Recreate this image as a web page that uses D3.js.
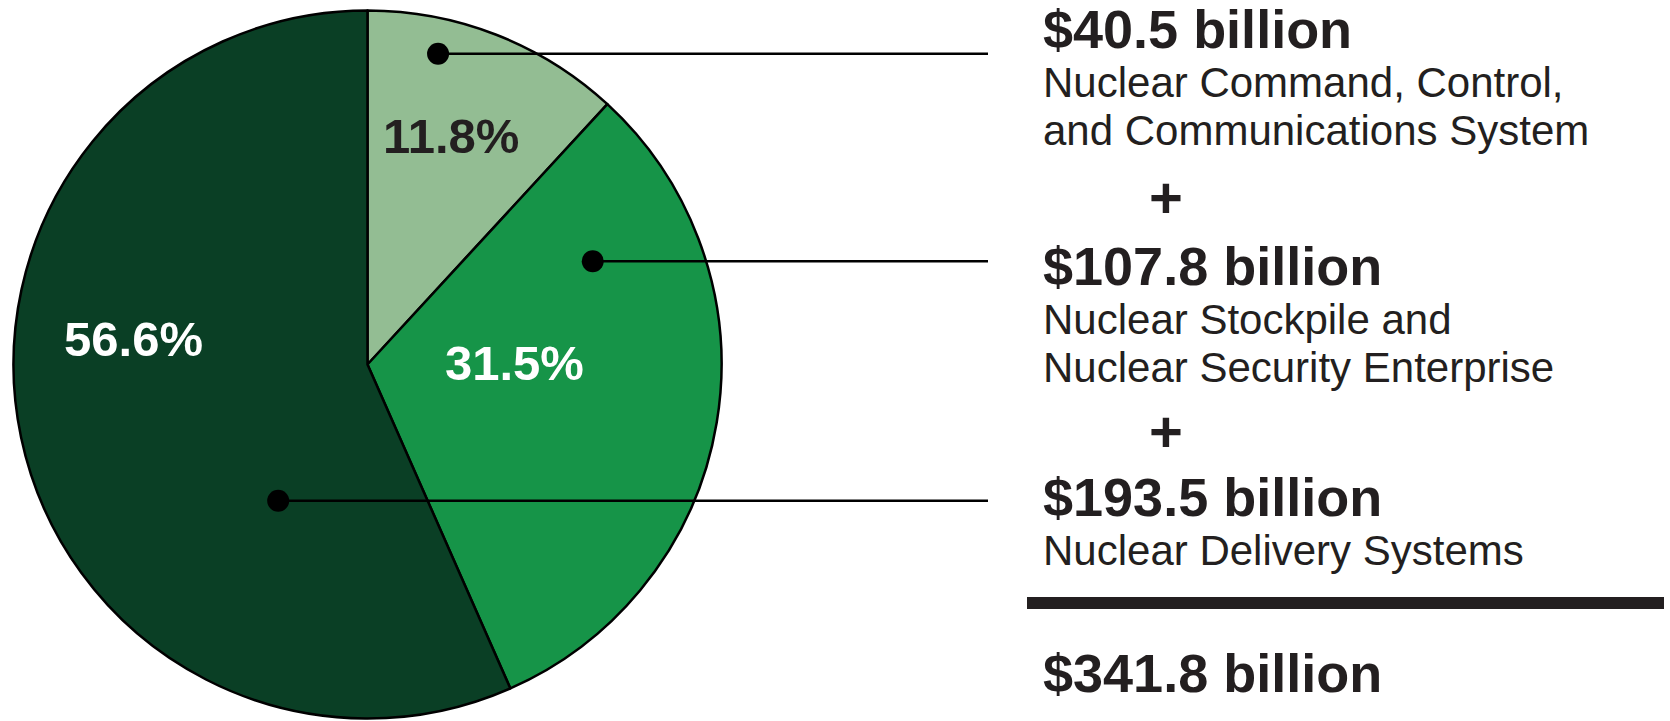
<!DOCTYPE html>
<html>
<head>
<meta charset="utf-8">
<script src="https://cdn.jsdelivr.net/npm/d3@7"></script>
<style>
  html, body { margin: 0; padding: 0; background: #fff; }
  svg { display: block; font-family: "Liberation Sans", Arial, sans-serif; }
</style>
</head>
<body>
<div id="graphic"></div>
<script>
// data
var amounts = [40.5, 107.8, 193.5];
var descriptions = [
  ["Nuclear Command, Control,", "and Communications System"],
  ["Nuclear Stockpile and", "Nuclear Security Enterprise"],
  ["Nuclear Delivery Systems"]
];
var sliceColors = ["#93bd93", "#169448", "#0a3f25"];
var labelColors = ["#231f20", "#ffffff", "#ffffff"];

// where the dot and the percent sit inside each slice: [angle fraction, radius fraction]
var dotSpots = [[0.30, 0.90], [0.20, 0.70], [0.28, 0.46]];
var labelSpots = [[0.47, 0.69], [0.41, 0.415], [0.59, 0.665]];

var width = 1670;
var height = 721;
var cx = 367.5;
var cy = 364.5;
var radius = 354;
var textX = 1043;
var leaderEnd = 988;
var blockY = [48, 285, 516];
var lineGap = 49;
var plusX = 1166;
var ruleY = 603;
var totalY = 692;
var ink = "#231f20";

var total = d3.sum(amounts);
var pct = d3.format(".1%");
var money = function(v) { return "$" + d3.format(".1f")(v) + " billion"; };

var svg = d3.select("#graphic")
  .append("svg")
  .attr("width", width)
  .attr("height", height);

var pie = d3.pie().sort(null).value(d => d);
var arcs = pie(amounts);
var arc = d3.arc().innerRadius(0).outerRadius(radius);

var pieG = svg.append("g")
  .attr("transform", "translate(" + cx + "," + cy + ")");

pieG.selectAll("path")
  .data(arcs)
  .join("path")
  .attr("d", arc)
  .attr("fill", (d, i) => sliceColors[i])
  .attr("stroke", "#000")
  .attr("stroke-width", 2.5)
  .attr("stroke-linejoin", "round");

function spot(d, s) {
  var a = d.startAngle + (d.endAngle - d.startAngle) * s[0];
  var r = radius * s[1];
  return [Math.sin(a) * r, -Math.cos(a) * r];
}

// percent labels
pieG.selectAll("text.pct")
  .data(arcs)
  .join("text")
  .attr("class", "pct")
  .attr("x", (d, i) => spot(d, labelSpots[i])[0])
  .attr("y", (d, i) => spot(d, labelSpots[i])[1])
  .attr("dy", "0.36em")
  .attr("text-anchor", "middle")
  .attr("font-weight", "bold")
  .attr("font-size", 49)
  .attr("fill", (d, i) => labelColors[i])
  .text(d => pct(d.value / total));

// leader lines and dots
arcs.forEach(function(d, i) {
  var p = spot(d, dotSpots[i]);
  pieG.append("line")
    .attr("x1", p[0])
    .attr("y1", p[1])
    .attr("x2", leaderEnd - cx)
    .attr("y2", p[1])
    .attr("stroke", "#000")
    .attr("stroke-width", 2.5);
  pieG.append("circle")
    .attr("cx", p[0])
    .attr("cy", p[1])
    .attr("r", 11)
    .attr("fill", "#000");
});

// right hand text
var blocks = svg.append("g").attr("fill", ink);

amounts.forEach(function(v, i) {
  blocks.append("text")
    .attr("x", textX)
    .attr("y", blockY[i])
    .attr("font-weight", "bold")
    .attr("font-size", 54)
    .text(money(v));
  descriptions[i].forEach(function(line, j) {
    blocks.append("text")
      .attr("x", textX)
      .attr("y", blockY[i] + lineGap + j * 48)
      .attr("font-size", 42)
      .text(line);
  });
  if (i < amounts.length - 1) {
    var prevBottom = blockY[i] + lineGap + (descriptions[i].length - 1) * 48;
    blocks.append("text")
      .attr("x", plusX)
      .attr("y", (prevBottom + blockY[i + 1]) / 2 - 18)
      .attr("dy", "0.36em")
      .attr("text-anchor", "middle")
      .attr("font-weight", "bold")
      .attr("font-size", 58)
      .text("+");
  }
});

blocks.append("rect")
  .attr("x", 1027)
  .attr("y", ruleY - 6)
  .attr("width", 1664 - 1027)
  .attr("height", 12)
  .attr("fill", ink);

blocks.append("text")
  .attr("x", textX)
  .attr("y", totalY)
  .attr("font-weight", "bold")
  .attr("font-size", 54)
  .text(money(total));
</script>
</body>
</html>
